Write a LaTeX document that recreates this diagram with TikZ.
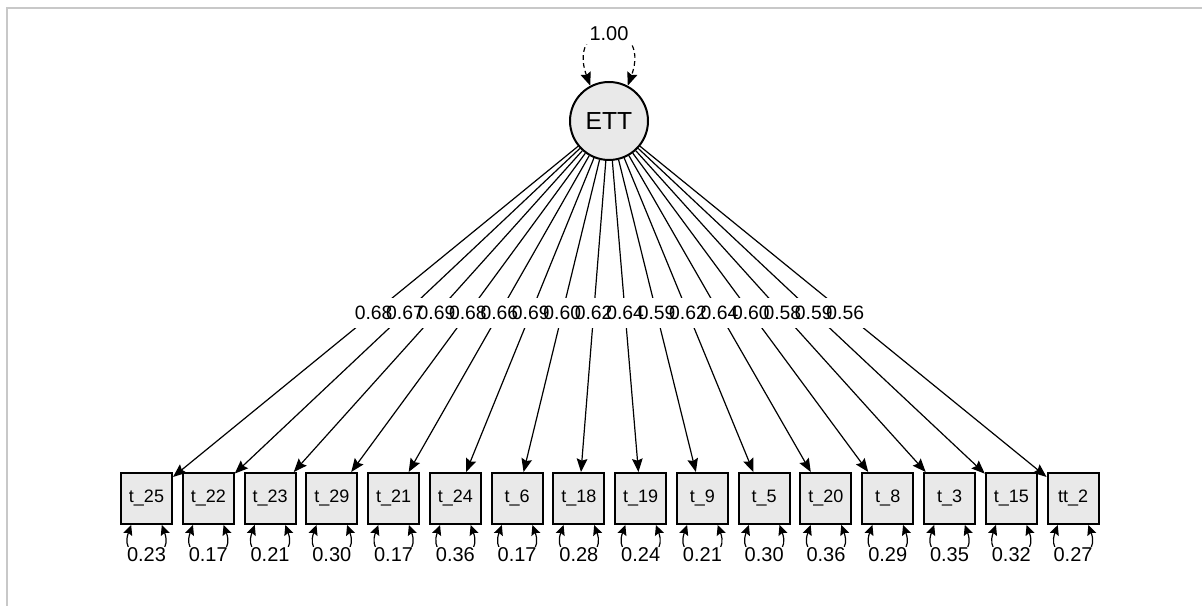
\documentclass[tikz,border=0pt]{standalone}
\usepackage{fontspec}
\setmainfont{Liberation Sans}
\usetikzlibrary{arrows.meta,calc}
\definecolor{nodefill}{RGB}{233,233,233}
\definecolor{framegray}{RGB}{200,200,200}

\begin{document}
\begin{tikzpicture}[x=0.75pt,y=0.75pt,
  latent/.style={circle, draw, line width=1.5pt, fill=nodefill, minimum size=58.5pt,
    inner sep=0pt, font=\fontsize{18.5}{20}\selectfont},
  manifest/.style={rectangle, draw, line width=1.5pt, fill=nodefill, minimum size=38.25pt,
    inner sep=0pt, font=\fontsize{13.5}{15}\selectfont},
  bigtip/.tip={Stealth[length=10pt,width=8pt,inset=1.5pt]},
  smalltip/.tip={Stealth[length=7.5pt,width=7pt,inset=1.2pt]},
  loading/.style={-bigtip, line width=0.9pt},
  resid/.style={smalltip-smalltip, line width=0.9pt},
  latvar/.style={bigtip-bigtip, line width=0.9pt, dash pattern=on 3.5pt off 2.5pt},
  loadbg/.style={fill=white, inner xsep=1pt, inner ysep=0pt, minimum height=23pt,
    font=\fontsize{14.5}{16}\selectfont},
  loadtxt/.style={inner sep=0pt, font=\fontsize{14.5}{16}\selectfont},
  residlab/.style={fill=white, inner sep=1pt, font=\fontsize{15}{17}\selectfont},
  varlab/.style={fill=white, inner sep=2.5pt, font=\fontsize{15}{17}\selectfont}
]
\useasboundingbox (0,0) rectangle (1202,606);

% panel frame (top and left edges)
\draw[framegray, line width=1.5pt] (6.7,0) -- (6.7,597.7) -- (1202,597.7);

% latent factor
\node[latent] (ETT) at (609,485) {ETT};

% indicators
\foreach \lab [count=\i from 0] in {t\_25,t\_22,t\_23,t\_29,t\_21,t\_24,t\_6,t\_18,
    t\_19,t\_9,t\_5,t\_20,t\_8,t\_3,t\_15,tt\_2}
  \node[manifest] (b\i) at ({146.5+61.77*\i},107.5) {\lab};

% factor loadings
\foreach \i in {0,...,15}
  \draw[loading] (ETT) -- (b\i);

% loading labels: backgrounds first, then the values on top
\foreach \v [count=\i from 0] in {0.68,0.67,0.69,0.68,0.66,0.69,0.60,0.62,
    0.64,0.59,0.62,0.64,0.60,0.58,0.59,0.56}
  \node[loadbg] (bg\i) at ($(ETT)!0.509!(b\i)$) {\phantom{\v}};
\foreach \v [count=\i from 0] in {0.68,0.67,0.69,0.68,0.66,0.69,0.60,0.62,
    0.64,0.59,0.62,0.64,0.60,0.58,0.59,0.56}
  \node[loadtxt] (lv\i) at (bg\i) {\v};

% residual variances
\foreach \v [count=\i from 0] in {0.23,0.17,0.21,0.30,0.17,0.36,0.17,0.28,
    0.24,0.21,0.30,0.36,0.29,0.35,0.32,0.27}
  \draw[resid] (b\i.240) to[out=-110, in=-70, out distance=32pt, in distance=32pt]
    node[residlab] (rv\i) {\v} (b\i.300);

% factor variance
\draw[latvar] (ETT.118) to[out=110, in=70, out distance=55pt, in distance=55pt]
  node[varlab] (fv) {1.00} (ETT.62);
\end{tikzpicture}
\end{document}
